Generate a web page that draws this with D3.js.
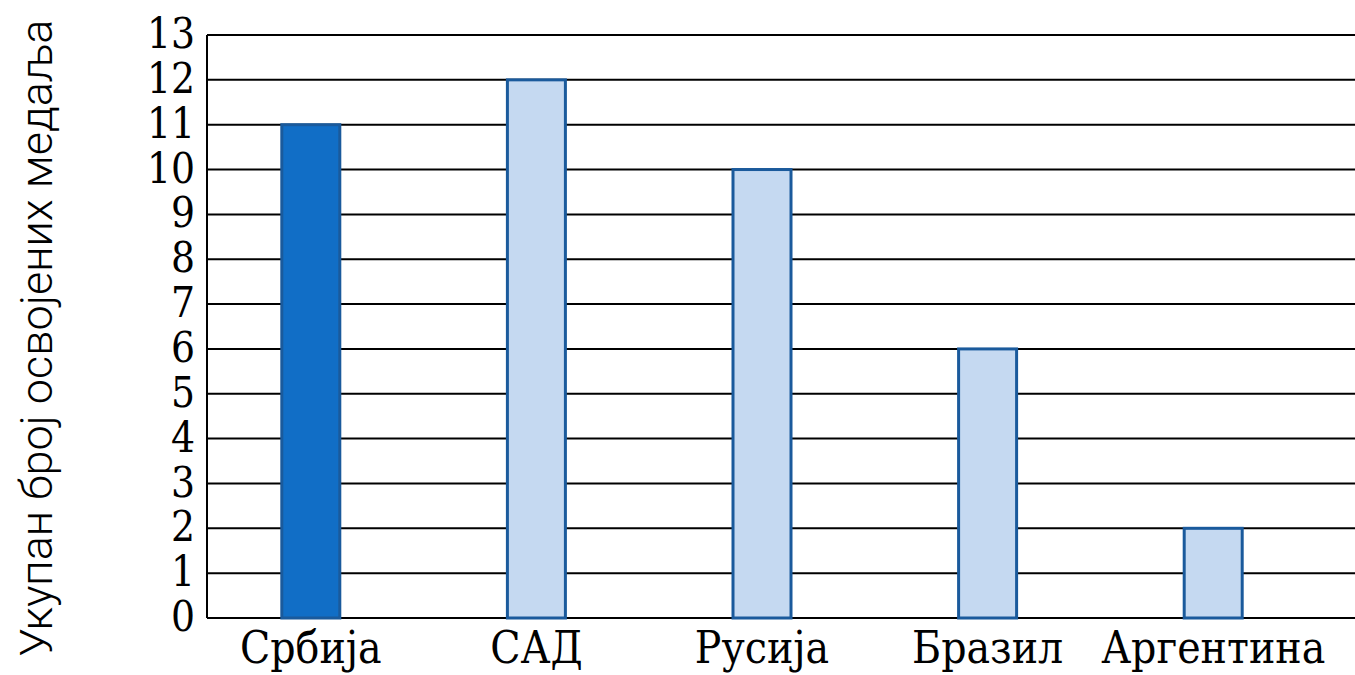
<!doctype html>
<html>
<head>
<meta charset="utf-8">
<title>Медаље</title>
<script src="https://d3js.org/d3.v7.min.js"></script>
<style>
body { margin: 0; background: #fff; }
svg { display: block; }
.tick text { font-family: 'DejaVu Serif Condensed', 'DejaVu Serif'; fill: #000; }
</style>
</head>
<body>
<div id="container"></div>
<script>

// data
var countries = ["Србија", "САД", "Русија", "Бразил", "Аргентина"];
var medals = [11, 12, 10, 6, 2];
var highlight = ["Србија"];
var yTicks = d3.range(0, 14);
var yTitle = "Укупан број освојених медаља";

var width = 1355, height = 675;
var plotLeft = 207, plotRight = 1355, plotTop = 35, plotBottom = 618;

var svg = d3.select("#container")
  .append("svg")
  .attr("width", width)
  .attr("height", height);

var x = d3.scaleBand().domain(countries).range([198, 1326]);
var y = d3.scaleLinear().domain([0, 13]).range([plotBottom, plotTop]);

// gridlines
svg.append("g")
  .selectAll("line")
  .data(yTicks)
  .enter().append("line")
  .attr("x1", plotLeft).attr("x2", plotRight)
  .attr("y1", function(d){ return y(d); })
  .attr("y2", function(d){ return y(d); })
  .attr("stroke", "#000")
  .attr("stroke-width", 2);

// y axis line
svg.append("line")
  .attr("x1", plotLeft).attr("x2", plotLeft)
  .attr("y1", y(13)).attr("y2", y(0))
  .attr("stroke", "#000")
  .attr("stroke-width", 2);

// y tick labels
var yAxis = svg.append("g")
  .attr("transform", "translate(" + plotLeft + ",0)")
  .call(d3.axisLeft(y).tickValues(yTicks).tickSize(0).tickPadding(12));
yAxis.select(".domain").remove();
yAxis.selectAll("text").style("font-size", "42px").attr("dy", "0.3em");

// bars
var barW = 58;
svg.append("g")
  .selectAll("rect")
  .data(countries)
  .enter().append("rect")
  .attr("x", function(d){ return x(d) + x.bandwidth() / 2 - barW / 2; })
  .attr("y", function(d, i){ return y(medals[i]); })
  .attr("width", barW)
  .attr("height", function(d, i){ return y(0) - y(medals[i]); })
  .attr("fill", function(d){ return highlight.indexOf(d) >= 0 ? "#116ec6" : "#c5d9f1"; })
  .attr("stroke", "#1a5a9c")
  .attr("stroke-width", 3);

// x labels
var xAxis = svg.append("g")
  .attr("transform", "translate(0," + plotBottom + ")")
  .call(d3.axisBottom(x).tickSize(0).tickPadding(14));
xAxis.select(".domain").remove();
xAxis.selectAll("text").style("font-size", "44px").attr("dy", "0.71em");

// y title
svg.append("text")
  .attr("transform", "translate(52,338) rotate(-90)")
  .attr("text-anchor", "middle")
  .style("font-family", "Roboto")
  .style("font-weight", 300)
  .style("font-size", "45px")
  .text(yTitle);

</script>
</body>
</html>
